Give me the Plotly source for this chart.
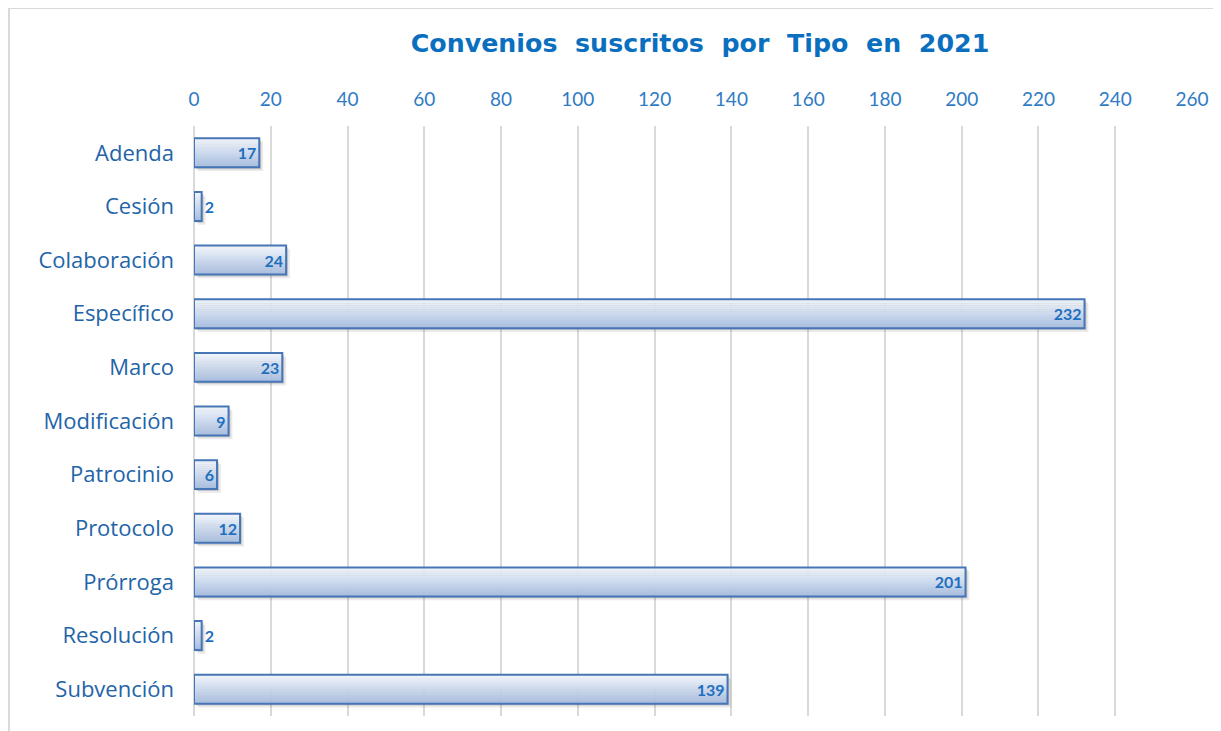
import plotly.graph_objects as go

categories = ["Adenda", "Cesión", "Colaboración", "Específico", "Marco", "Modificación",
              "Patrocinio", "Protocolo", "Prórroga", "Resolución", "Subvención"]
values = [17, 2, 24, 232, 23, 9, 6, 12, 201, 2, 139]
tick_values = list(range(0, 261, 20))
title_text = "Convenios  suscritos  por  Tipo  en  2021"

# page body has an 8px margin, so the figure is drawn 8px smaller and shifted
PAD = 8
W, H = 1221 - PAD, 731 - PAD
L, R, T, B = 194 - PAD, 29, 126 - PAD, 15
pw, ph = W - L - R, H - T - B

fig = go.Figure()

bar_w = 0.54

# shadow layers
for off, base, alpha in [(0.035, 0.5, 0.22), (0.07, 1.0, 0.12)]:
    fig.add_trace(go.Bar(
        y=categories, x=values, base=base, orientation="h",
        width=bar_w, offset=-bar_w / 2 + off,
        marker=dict(color=f"rgba(80,80,80,{alpha})", line=dict(width=0)),
        hoverinfo="skip", showlegend=False))

# gradient stripes
top_c = (240, 244, 250)
bot_c = (168, 190, 224)
N = 14
dw = bar_w / N
for i in range(N):
    t = i / (N - 1)
    c = tuple(round(top_c[k] + (bot_c[k] - top_c[k]) * t) for k in range(3))
    fig.add_trace(go.Bar(
        y=categories, x=values, orientation="h",
        width=dw * 1.08, offset=-bar_w / 2 + i * dw,
        marker=dict(color=f"rgb{c}", line=dict(width=0)),
        hoverinfo="skip", showlegend=False))

# outline + labels
positions = ["inside" if v >= 5 else "outside" for v in values]
fig.add_trace(go.Bar(
    y=categories, x=values, orientation="h",
    width=bar_w, offset=-bar_w / 2,
    marker=dict(color="rgba(0,0,0,0)", line=dict(color="#4676B6", width=2)),
    text=[str(v) for v in values], textposition=positions,
    insidetextanchor="end", constraintext="none", cliponaxis=False,
    textfont=dict(family="Lato", size=16, color="#1F6FC0", weight="bold"),
    showlegend=False))

fig.update_layout(
    width=W, height=H,
    margin=dict(l=L, r=R, t=T, b=B),
    paper_bgcolor="white", plot_bgcolor="white",
    barmode="overlay",
    title=dict(text=title_text, x=(700 - PAD) / W, xref="container", xanchor="center",
               y=1 - (43 - PAD) / H, yref="container", yanchor="middle",
               font=dict(family="DejaVu Sans", size=25.3, color="#0B6FBF", weight="bold")),
    xaxis=dict(side="top", range=[0, 260], tickvals=tick_values,
               showgrid=True, gridcolor="#D9D9D9", gridwidth=2,
               zeroline=True, zerolinecolor="#D9D9D9", zerolinewidth=2,
               showline=False, ticks="", ticklabelstandoff=15,
               tickfont=dict(family="Lato", size=19, color="#2F7BC4")),
    yaxis=dict(type="category", autorange="reversed", showgrid=False,
               zeroline=False, showline=False, ticks="", ticklabelstandoff=19,
               tickfont=dict(family="Open Sans", size=22, color="#2364A8")),
    shapes=[dict(type="rect", xref="paper", yref="paper",
                 x0=(9 - 194) / pw, x1=1.2, y0=-0.2, y1=1 + (126 - 8) / ph,
                 line=dict(color="#D9D9D9", width=2), fillcolor="rgba(0,0,0,0)",
                 layer="below")],
)

fig.write_html("out.html")
